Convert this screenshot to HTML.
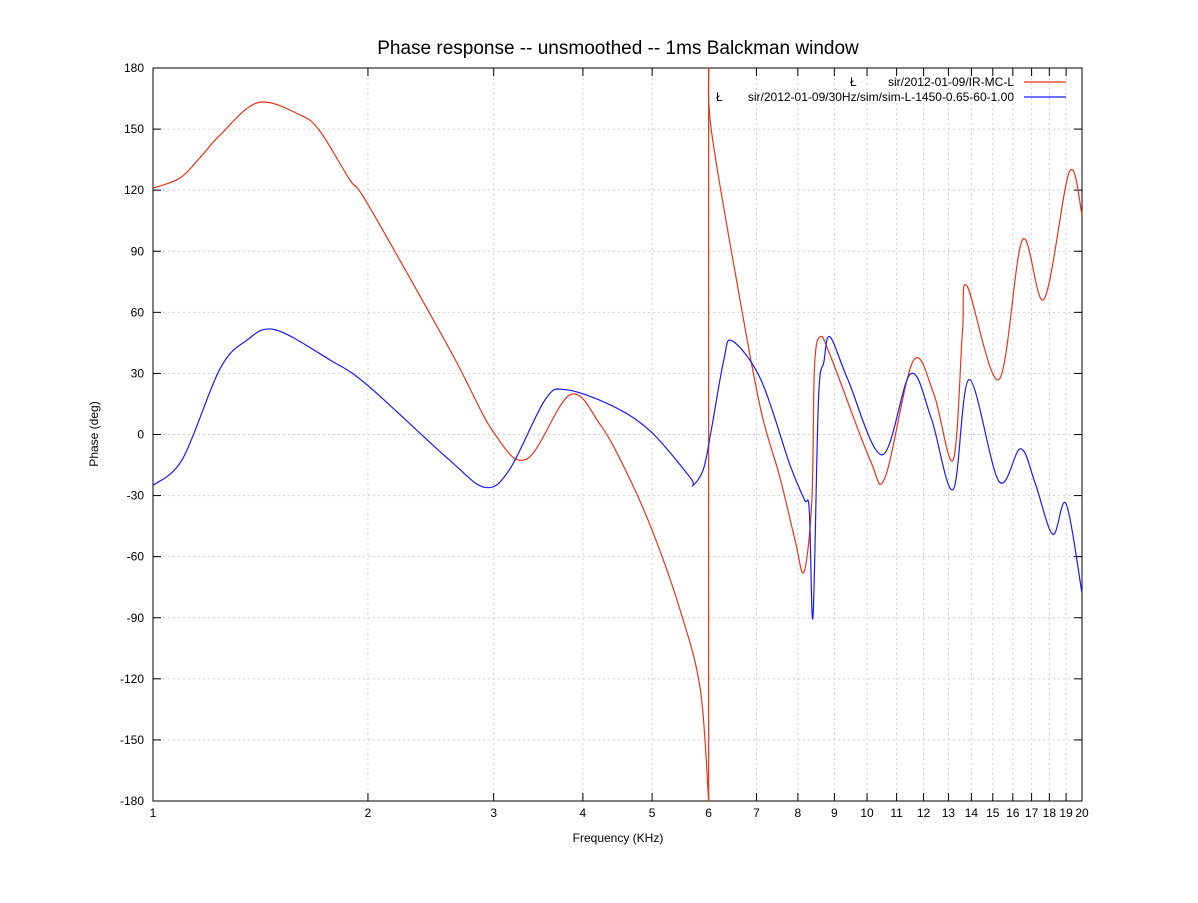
<!DOCTYPE html>
<html><head><meta charset="utf-8"><style>
body{margin:0;background:#fff}
svg{font-family:"Liberation Sans",sans-serif}
</style></head><body>
<svg id="chart" width="1198" height="898" xmlns="http://www.w3.org/2000/svg">
<rect width="1198" height="898" fill="#fff"/>
<text x="618" y="54" font-size="19" text-anchor="middle">Phase response -- unsmoothed -- 1ms Balckman window</text>
<g id="grid"></g>
<g id="axes"></g>
<g id="series"></g>
<text x="618" y="842" font-size="12" text-anchor="middle">Frequency (KHz)</text>
<text transform="translate(98,434) rotate(-90)" font-size="12" text-anchor="middle">Phase (deg)</text>
<g font-size="12">
<text x="850" y="86">Ł</text>
<text x="1014" y="86" text-anchor="end">sir/2012-01-09/IR-MC-L</text>
<line x1="1024" x2="1066" y1="82" y2="82" stroke="#e8341c" stroke-width="1.2"/>
<text x="716" y="101">Ł</text>
<text x="1014" y="101" text-anchor="end">sir/2012-01-09/30Hz/sim/sim-L-1450-0.65-60-1.00</text>
<line x1="1024" x2="1066" y1="97" y2="97" stroke="#1a1aff" stroke-width="1.2"/>
</g>
</svg>
<script>
const xTicks=[1,2,3,4,5,6,7,8,9,10,11,12,13,14,15,16,17,18,19,20];
const yTicks=[-180,-150,-120,-90,-60,-30,0,30,60,90,120,150,180];
const redFreqA=[1,1.091,1.164,1.241,1.403,1.606,1.713,1.887,2,2.606,3,3.34,3.837,4.227,4.597,5,5.47,5.84,6.0];
const redPhaseA=[121,126,136,147,163,157,149,125,113,41.5,1,-12,19.5,5,-18,-47,-86,-125,-180];
const redFreqB=[6.0,6.06,6.64,7.1,7.55,7.93,8.16,8.37,8.44,8.6,8.9,10.1,10.6,11.6,12.4,13.2,13.6,13.8,15.3,16.5,17.7,19.2,20];
const redPhaseB=[180,148,66,12,-21,-52,-67.5,-32,33,48,38,-12.5,-21,36,20,-12.5,50,73,27,95.5,66.5,129,108];
const blueFreq=[1,1.1,1.24,1.35,1.48,1.77,2,2.6,2.92,3.16,3.54,3.78,4.37,4.96,5.65,5.7,5.9,6.05,6.3,6.47,7.1,7.8,8.17,8.3,8.4,8.55,8.7,8.87,9.4,10.5,11.5,12.3,13.2,13.9,15.3,16.4,17.2,18.2,19.0,20];
const bluePhase=[-25,-12,32,46,51.5,36.6,24,-12.5,-26,-17,17,22,14.5,2,-21,-25,-17,2,36.6,46,27,-15,-32,-37,-89.6,17,35.6,48,27,-10,29.7,8,-27,27,-23,-7,-24,-49,-34,-78];
const NS='http://www.w3.org/2000/svg';
const L=153,R=1082,T=68,B=801;
const xs=f=>L+(R-L)*Math.log10(f)/Math.log10(20);
const ys=d=>B-(d+180)/360*(B-T);
function mk(tag,attrs,parent){const e=document.createElementNS(NS,tag);for(const k in attrs)e.setAttribute(k,attrs[k]);parent.appendChild(e);return e;}
const grid=document.getElementById('grid'),axes=document.getElementById('axes'),ser=document.getElementById('series');
xTicks.forEach(t=>{const x=xs(t);
 if(t>1&&t<20){const g=mk('line',{x1:x,x2:x,y1:T,y2:B,stroke:'#cfcfcf','stroke-dasharray':'2,3','stroke-width':1},grid);
 
 }
 mk('line',{x1:x,x2:x,y1:B,y2:B-8,stroke:'#000'},axes);
 mk('line',{x1:x,x2:x,y1:T,y2:T+8,stroke:'#000'},axes);
 const lb=mk('text',{x:x,y:B+16,'font-size':12,'text-anchor':'middle'},axes);lb.textContent=t;
 
 
});
yTicks.forEach(t=>{const y=ys(t);
 if(t>-180&&t<180){const g=mk('line',{x1:L,x2:R,y1:y,y2:y,stroke:'#cfcfcf','stroke-dasharray':'2,3','stroke-width':1},grid);
 
 }
 mk('line',{x1:L,x2:L+8,y1:y,y2:y,stroke:'#000'},axes);
 mk('line',{x1:R,x2:R-8,y1:y,y2:y,stroke:'#000'},axes);
 const lb=mk('text',{x:L-9,y:y+4,'font-size':12,'text-anchor':'end'},axes);lb.textContent=t;
 
 
});
const fr=mk('rect',{x:L,y:T,width:R-L,height:B-T,fill:'none',stroke:'#000'},axes);


function pathD(fs,ds){const p=fs.map((f,i)=>[xs(f),ys(ds[i])]);let d='M'+p[0][0]+','+p[0][1];
 for(let i=0;i<p.length-1;i++){const p0=p[Math.max(i-1,0)],p1=p[i],p2=p[i+1],p3=p[Math.min(i+2,p.length-1)];
  const c1=[p1[0]+(p2[0]-p0[0])/6,p1[1]+(p2[1]-p0[1])/6],c2=[p2[0]-(p3[0]-p1[0])/6,p2[1]-(p3[1]-p1[1])/6];
  d+=' C'+c1+' '+c2+' '+p2;}
 return d;}
const r1=mk('path',{d:pathD(redFreqA,redPhaseA),fill:'none',stroke:'#e8341c','stroke-width':1.2},ser);


const rj=mk('line',{x1:xs(redFreqA[redFreqA.length-1]),x2:xs(redFreqB[0]),y1:ys(redPhaseA[redPhaseA.length-1]),y2:ys(redPhaseB[0]),stroke:'#e8341c','stroke-width':1.2},ser);


const r2=mk('path',{d:pathD(redFreqB,redPhaseB),fill:'none',stroke:'#e8341c','stroke-width':1.2},ser);


const b1=mk('path',{d:pathD(blueFreq,bluePhase),fill:'none',stroke:'#1a1aff','stroke-width':1.2},ser);


</script>
</body></html>
